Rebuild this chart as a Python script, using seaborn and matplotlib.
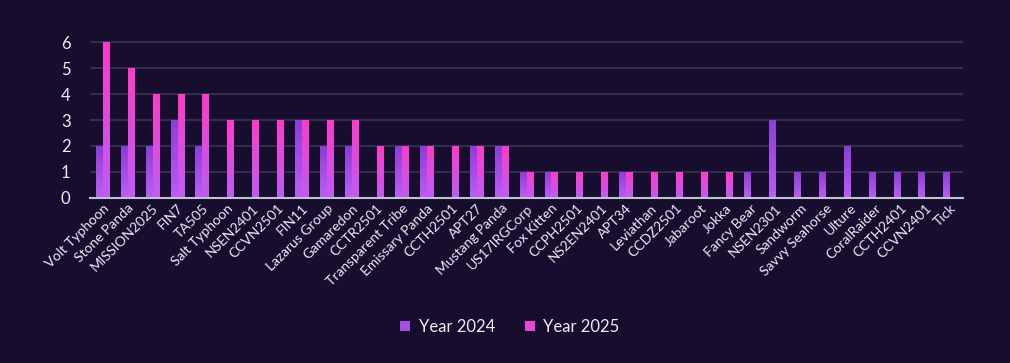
import numpy as np
import pandas as pd
import matplotlib
matplotlib.use("Agg")
import matplotlib.pyplot as plt
import matplotlib.colors as mcolors
from matplotlib.patches import Patch
import seaborn as sns

groups = ['Volt Typhoon', 'Stone Panda', 'MISSION2025', 'FIN7', 'TA505', 'Salt Typhoon',
          'NSEN2401', 'CCVN2501', 'FIN11', 'Lazarus Group', 'Gamaredon', 'CCTR2501',
          'Transparent Tribe', 'Emissary Panda', 'CCTH2501', 'APT27', 'Mustang Panda',
          'US17IRGCorp', 'Fox Kitten', 'CCPH2501', 'NS2EN2401', 'APT34', 'Leviathan',
          'CCDZ2501', 'Jabaroot', 'Jokka', 'Fancy Bear', 'NSEN2301', 'Sandworm',
          'Savvy Seahorse', 'Ulture', 'CoralRaider', 'CCTH2401', 'CCVN2401', 'Tick']
year_2024 = [2, 2, 2, 3, 2, 0, 0, 0, 3, 2, 2, 0, 2, 2, 0, 2, 2, 1, 1, 0, 0, 1, 0,
             0, 0, 0, 1, 3, 1, 1, 2, 1, 1, 1, 1]
year_2025 = [6, 5, 4, 4, 4, 3, 3, 3, 3, 3, 3, 2, 2, 2, 2, 2, 2, 1, 1, 1, 1, 1, 1,
             1, 1, 1, 0, 0, 0, 0, 0, 0, 0, 0, 0]
series = ['Year 2024', 'Year 2025']

bg = '#160d2f'
grad = {'Year 2024': ('#8c3ed6', '#bd5cf7'), 'Year 2025': ('#ff3ac8', '#bf5cf5')}
legend_colors = {'Year 2024': '#a44ee8', 'Year 2025': '#ec45d6'}

df = pd.DataFrame({
    'group': groups * 2,
    'count': year_2024 + year_2025,
    'year': [series[0]] * len(groups) + [series[1]] * len(groups),
})

sns.set_theme(style="dark")
plt.rcParams['font.family'] = ['Lato', 'DejaVu Sans']

fig = plt.figure(figsize=(10.1, 3.63), dpi=100, facecolor=bg)
ax = fig.add_axes([0.089, 0.455, 0.864, 0.432])
ax.set_facecolor(bg)

sns.barplot(data=df, x='group', y='count', hue='year', hue_order=series,
            width=0.56, gap=0.1, ax=ax, legend=False, zorder=3)

# per-bar vertical gradient
n = len(groups)
for i, p in enumerate(ax.patches):
    h = p.get_height()
    if h <= 0:
        p.set_visible(False)
        continue
    top, bot = grad[series[i // n]]
    cmap = mcolors.LinearSegmentedColormap.from_list('g', [bot, top])
    x0, w = p.get_x(), p.get_width()
    img = ax.imshow(np.linspace(0, 1, 64).reshape(-1, 1), cmap=cmap, origin='lower',
                    extent=[x0, x0 + w, 0, h], aspect='auto', zorder=3)
    img.set_clip_path(p)
    p.set_facecolor('none')
    p.set_edgecolor('none')

ax.set_xlim(-0.5, n - 0.5)
ax.set_ylim(0, 6.05)
ax.set_yticks(range(0, 7))
ax.grid(axis='y', color='#3a3452', linewidth=1.2, zorder=0)
ax.grid(axis='x', visible=False)
for s in ['top', 'right', 'left']:
    ax.spines[s].set_visible(False)
ax.spines['bottom'].set_color('#c4c2cc')
ax.spines['bottom'].set_linewidth(1.5)
ax.spines['bottom'].set_zorder(4)
ax.set_xlabel('')
ax.set_ylabel('')
ax.tick_params(axis='y', colors='#ececf2', labelsize=12, length=0, pad=14)
ax.tick_params(axis='x', colors='#ececf2', labelsize=10, length=0, pad=3)
plt.setp(ax.get_xticklabels(), rotation=45, ha='right', rotation_mode='anchor')

handles = [Patch(facecolor=legend_colors[s], edgecolor='none') for s in series]
leg = fig.legend(handles, series, loc='center', bbox_to_anchor=(0.505, 0.1), ncol=2,
                 frameon=False, fontsize=12, handlelength=0.6, handleheight=0.6,
                 columnspacing=1.8, handletextpad=0.5)
for t in leg.get_texts():
    t.set_color('#ececf2')

fig.savefig('out.png', dpi=100, facecolor=bg)
